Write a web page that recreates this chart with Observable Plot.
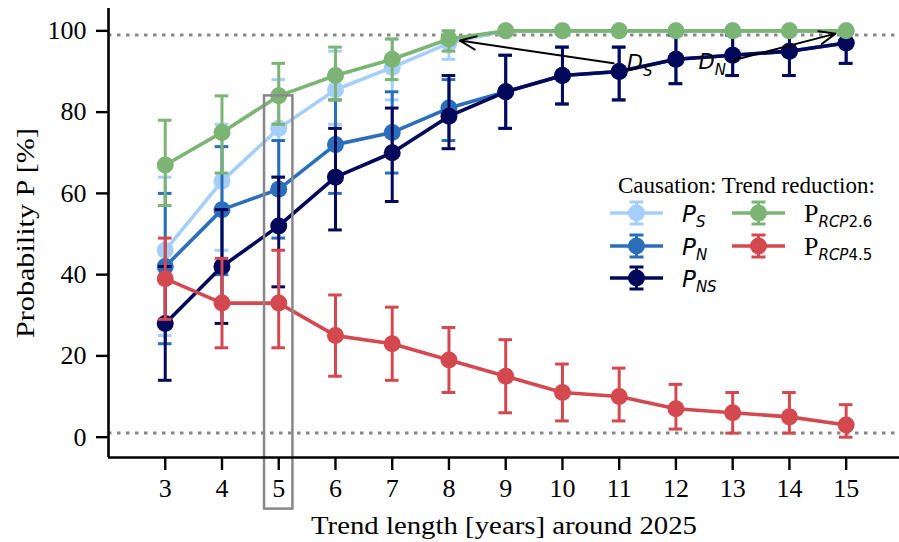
<!DOCTYPE html>
<html><head><meta charset="utf-8">
<script src="https://cdn.jsdelivr.net/npm/d3@7"></script>
<script src="https://cdn.jsdelivr.net/npm/@observablehq/plot@0.6"></script>
<style>
html,body{margin:0;padding:0;background:#fff;}
</style></head><body><div id="chart"></div>
<script>
// ---- data ----
const trendYears = [3,4,5,6,7,8,9,10,11,12,13,14,15];
const yTicks = [0,20,40,60,80,100];

const pS      = [46,63,76,85.5,91,97,100,100,100,100,100,100,100];
const pSLow   = [25,46,64,77,83,93,100,100,100,100,100,100,100];
const pSHigh  = [64,77,88,95,98,100,100,100,100,100,100,100,100];

const pNS     = [28,42,52,64,70,79,85,89,90,93,94,95,97];
const pNSLow  = [14,28,37,51,58,71,76,82,83,87,89,89,92];
const pNSHigh = [42,56,64,76,81,89,94,96,96,99,99,100,100];

const pN      = [42,56,61,72,75,81,85,89,90,93,94,95,97];
const pNLow   = [23,40,49,60,65,73,76,82,83,87,89,89,92];
const pNHigh  = [60,71.5,73,83,85,88,94,96,96,99,99,100,100];

const pRCP26     = [67,75,84,89,93,98,100,100,100,100,100,100,100];
const pRCP26Low  = [57,65,77,83,88,95,100,100,100,100,100,100,100];
const pRCP26High = [78,84,92,96,98,100,100,100,100,100,100,100,100];

const pRCP45     = [39,33,33,25,23,19,15,11,10,7,6,5,3];
const pRCP45Low  = [29,22,22,15,14,11,6,4,4,2,1,1,0];
const pRCP45High = [49,44,46,35,32,27,24,18,17,13,11,11,8];

const seriesKeys   = ["PS","PN","PNS","RCP26","RCP45"];
const seriesColors = ["#a5cff8","#2b6fbb","#03085a","#7cb474","#d4494f"];
const seriesValues = [pS, pN, pNS, pRCP26, pRCP45];
const seriesLows   = [pSLow, pNLow, pNSLow, pRCP26Low, pRCP45Low];
const seriesHighs  = [pSHigh, pNHigh, pNSHigh, pRCP26High, pRCP45High];

const refLevels = [1, 99];
const highlightYear = 5;
const highlightBox = {half: 0.25, low: -17.7, high: 84};

const xTitle = "Trend length [years] around 2025";
const yTitle = "Probability P [%]";

const annotations = [
  {label: "D_S", tx: 11.36, ty: 92.0, ax: 10.90, ay: 92.0, target: 8,  targetY: 98},
  {label: "D_N", tx: 12.64, ty: 92.3, ax: 12.99, ay: 92.7, target: 15, targetY: 100}
];

// ---- build ----
const serif = "Liberation Serif";
const capHalf = 0.12;
const marks = [];
marks.push(Plot.ruleY(refLevels, {stroke: "#888", strokeWidth: 3, strokeDasharray: "3.5,5.5"}));

seriesKeys.forEach((key, s) => {
  const rows = trendYears.map((x, i) => ({x, y: seriesValues[s][i], lo: seriesLows[s][i], hi: seriesHighs[s][i]}));
  const c = seriesColors[s];
  marks.push(
    Plot.ruleX(rows, {x: "x", y1: "lo", y2: "hi", stroke: c, strokeWidth: 3}),
    Plot.ruleY(rows, {y: "hi", x1: d => d.x - capHalf, x2: d => d.x + capHalf, stroke: c, strokeWidth: 3}),
    Plot.ruleY(rows, {y: "lo", x1: d => d.x - capHalf, x2: d => d.x + capHalf, stroke: c, strokeWidth: 3}),
    Plot.line(rows, {x: "x", y: "y", stroke: c, strokeWidth: 3.6}),
    Plot.dot(rows, {x: "x", y: "y", r: 8.5, fill: c})
  );
});

marks.push(
  Plot.arrow(annotations, {x1: "ax", y1: "ay", x2: "target", y2: "targetY", stroke: "black", strokeWidth: 2, headLength: 13, headAngle: 45, insetEnd: 11}),
  Plot.text(annotations, {x: "tx", y: "ty", text: "label", textAnchor: "middle", fontFamily: "DejaVu Sans", fontStyle: "italic", fontSize: 21, fill: "black"}),
  Plot.rect([highlightBox], {x1: () => highlightYear - highlightBox.half, x2: () => highlightYear + highlightBox.half, y1: "low", y2: "high", fill: "none", stroke: "#888", strokeWidth: 2.5}),
  Plot.ruleX([2], {strokeWidth: 2.6}),
  Plot.ruleY([-5], {strokeWidth: 2.6}),
  Plot.axisX({ticks: trendYears, tickFormat: d => String(d), tickSize: 13, tickPadding: 8, strokeWidth: 2.4, label: null, fontSize: 26}),
  Plot.axisY({ticks: yTicks, tickFormat: d => String(d), tickSize: 12, tickPadding: 10, strokeWidth: 2.4, label: null, fontSize: 26}),
  Plot.text([xTitle], {frameAnchor: "bottom", lineAnchor: "middle", textAnchor: "middle", dy: 68, fontSize: 26}),
  Plot.text([yTitle], {frameAnchor: "left", lineAnchor: "middle", textAnchor: "middle", dx: -83, rotate: -90, fontSize: 26})
);

const svg = Plot.plot({
  width: 899, height: 542,
  marginLeft: 108, marginRight: 0, marginTop: 8, marginBottom: 85,
  x: {domain: [2, 15.94]},
  y: {domain: [-5, 105.5]},
  style: {fontFamily: serif, fontSize: "24px", color: "black", background: "white"},
  marks
});
document.getElementById("chart").appendChild(svg);

// serif font everywhere except the DejaVu annotation labels; title widths; subscripts
d3.select(svg).selectAll("text").each(function() {
  const t = d3.select(this);
  const s = this.textContent;
  if (/^D_[A-Z]+$/.test(s)) {
    const [base, sub] = s.split("_");
    t.text(null);
    t.append("tspan").text(base);
    t.append("tspan").attr("font-size", 15).attr("dy", 6).text(sub);
    return;
  }
  t.style("font-family", `"${serif}", serif`).style("font-variant", "normal");
  if (s === xTitle) t.attr("textLength", 386).attr("lengthAdjust", "spacingAndGlyphs");
  if (s === yTitle) t.attr("textLength", 210).attr("lengthAdjust", "spacingAndGlyphs");
});

// legend
const lg = d3.select(svg).append("g").attr("font-family", serif).attr("text-anchor", "start");
lg.append("text").attr("x", 618).attr("y", 193).attr("font-size", 23).text("Causation: Trend reduction:");
const legendItems = [
  {s: 0, col: 0, row: 0, main: "P", sub: [["S", true]], serif: false},
  {s: 1, col: 0, row: 1, main: "P", sub: [["N", true]], serif: false},
  {s: 2, col: 0, row: 2, main: "P", sub: [["NS", true]], serif: false},
  {s: 3, col: 1, row: 0, main: "P", sub: [["RCP", true], ["2.6", false]], serif: true},
  {s: 4, col: 1, row: 1, main: "P", sub: [["RCP", true], ["4.5", false]], serif: true}
];
const colX = [610, 732], rowY = [213, 246, 278];
legendItems.forEach(it => {
  const c = seriesColors[it.s];
  const x0 = colX[it.col], y0 = rowY[it.row], cx = x0 + 26.5;
  const g = lg.append("g");
  g.append("line").attr("x1", x0).attr("x2", x0 + 53).attr("y1", y0).attr("y2", y0).attr("stroke", c).attr("stroke-width", 3.6);
  g.append("line").attr("x1", cx).attr("x2", cx).attr("y1", y0 - 11).attr("y2", y0 + 11).attr("stroke", c).attr("stroke-width", 3);
  g.append("line").attr("x1", cx - 7).attr("x2", cx + 7).attr("y1", y0 - 11).attr("y2", y0 - 11).attr("stroke", c).attr("stroke-width", 3);
  g.append("line").attr("x1", cx - 7).attr("x2", cx + 7).attr("y1", y0 + 11).attr("y2", y0 + 11).attr("stroke", c).attr("stroke-width", 3);
  g.append("circle").attr("cx", cx).attr("cy", y0).attr("r", 8.5).attr("fill", c);
  const t = g.append("text").attr("x", x0 + 72).attr("y", y0 + 9);
  if (it.serif) t.append("tspan").attr("font-family", serif).attr("font-size", 26).text(it.main);
  else t.append("tspan").attr("font-family", "DejaVu Sans").attr("font-style", "italic").attr("font-size", 23).text(it.main);
  it.sub.forEach(([txt, ital], k) => {
    const sp = t.append("tspan").attr("font-family", "DejaVu Sans").attr("font-size", 15).text(txt);
    if (ital) sp.attr("font-style", "italic");
    if (k === 0) sp.attr("dy", 5);
  });
});
</script>
</body></html>
